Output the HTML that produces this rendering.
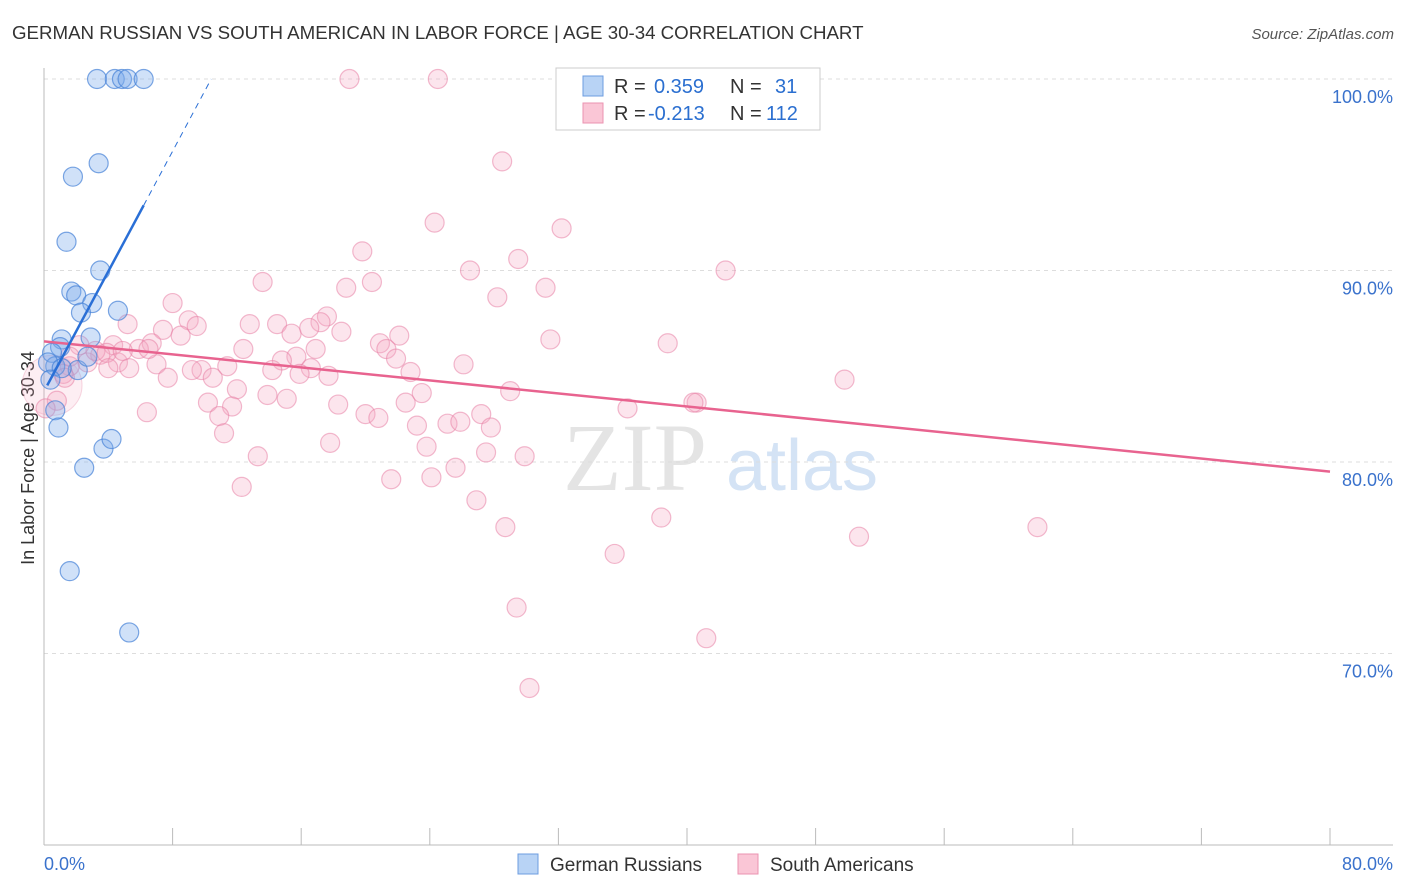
<!DOCTYPE html>
<html><head><meta charset="utf-8"><style>
body{margin:0;background:#fff;font-family:"Liberation Sans",sans-serif}
#c{position:absolute;left:0;top:0}
</style></head><body>
<svg id="c" width="1406" height="892" xmlns="http://www.w3.org/2000/svg">
<text x="12" y="39" font-size="18.7" fill="#333">GERMAN RUSSIAN VS SOUTH AMERICAN IN LABOR FORCE | AGE 30-34 CORRELATION CHART</text>
<text x="1394" y="39" font-size="15" fill="#555" font-style="italic" text-anchor="end">Source: ZipAtlas.com</text>
<text x="34" y="458" font-size="18" fill="#333" text-anchor="middle" transform="rotate(-90 34 458)">In Labor Force | Age 30-34</text>
<g><text x="635" y="490" font-size="96" fill="#e4e4e4" text-anchor="middle" font-family="Liberation Serif,serif">ZIP</text><text x="802" y="490" font-size="72" fill="#d4e3f5" text-anchor="middle">atlas</text></g>
<g id="grid"></g><g id="axes"></g><g id="pts"></g><g id="trend"></g>
<g>
<rect x="556" y="68" width="264" height="62" fill="#fff" stroke="#ccc"/>
<rect x="583" y="76" width="20" height="20" fill="#b8d3f5" stroke="#6d9de0"/>
<rect x="583" y="103" width="20" height="20" fill="#fac6d6" stroke="#eb93b0"/>
<text x="614" y="93" font-size="20" fill="#333">R = <tspan fill="#2b6fd0" x="654">0.359</tspan><tspan x="730">N = </tspan><tspan fill="#2b6fd0" x="775">31</tspan></text>
<text x="614" y="120" font-size="20" fill="#333">R = <tspan fill="#2b6fd0" x="648">-0.213</tspan><tspan x="730">N = </tspan><tspan fill="#2b6fd0" x="766">112</tspan></text>
</g>
<g>
<rect x="518" y="854" width="20" height="20" fill="#b8d3f5" stroke="#6d9de0"/>
<text x="550" y="871" font-size="19" fill="#333">German Russians</text>
<rect x="738" y="854" width="20" height="20" fill="#fac6d6" stroke="#eb93b0"/>
<text x="770" y="871" font-size="19" fill="#333">South Americans</text>
</g>
</svg>
<script>
const xTicks=[8,16,24,32,40,48,56,64,72,80];
const yTicks=[100,90,80,70];
const yTickLabels=["100.0%","90.0%","80.0%","70.0%"];
const blueX=[3.3,4.4,4.85,5.2,6.2,3.4,1.8,1.4,3.5,1.7,2.0,3.0,2.3,4.6,2.9,1.1,1.0,0.5,0.7,2.1,2.7,0.7,0.9,3.7,4.2,2.5,1.6,5.3,0.25,1.1,0.4];
const blueY=[100,100,100,100,100,95.6,94.9,91.5,90.0,88.9,88.7,88.3,87.8,87.9,86.5,86.4,86.0,85.7,85.0,84.8,85.5,82.7,81.8,80.7,81.2,79.7,74.3,71.1,85.2,84.9,84.3];
const pinkX=[19.0,24.5,32.6,28.5,24.3,32.2,19.8,29.5,26.5,42.4,13.6,20.4,18.8,31.2,28.2,8.0,17.6,9.0,12.8,14.5,17.2,9.5,5.2,7.4,8.5,15.4,16.5,18.5,22.1,31.5,38.8,6.7,5.9,4.3,12.4,20.9,16.9,15.7,21.3,21.9,26.1,14.8,4.6,5.3,7.0,9.8,11.4,9.2,14.2,16.6,15.9,22.8,7.7,10.5,17.7,49.8,12.0,13.9,23.5,29.0,10.2,15.1,22.5,11.7,18.3,20.0,20.8,36.3,40.6,40.4,6.4,10.9,23.2,25.1,25.9,27.2,27.8,11.2,17.8,23.8,27.5,13.3,29.9,25.6,21.6,24.1,12.3,26.9,38.4,28.7,50.7,61.8,35.5,29.4,41.2,30.2,3.5,2.7,1.6,1.2,3.2,2.2,1.6,3.9,1.3,0.8,0.1,4.0,4.9,6.5];
const pinkY=[100,100,100,95.7,92.5,92.2,91.0,90.6,90.0,90.0,89.4,89.4,89.1,89.1,88.6,88.3,87.6,87.4,87.2,87.2,87.3,87.1,87.2,86.9,86.6,86.7,87.0,86.8,86.6,86.4,86.2,86.2,85.9,86.1,85.9,86.2,85.9,85.5,85.9,85.4,85.1,85.3,85.2,84.9,85.1,84.8,85.0,84.8,84.8,84.9,84.6,84.7,84.4,84.4,84.5,84.3,83.8,83.5,83.6,83.7,83.1,83.3,83.1,82.9,83.0,82.5,82.3,82.8,83.1,83.1,82.6,82.4,81.9,82.0,82.1,82.5,81.8,81.5,81.0,80.8,80.5,80.3,80.3,79.7,79.1,79.2,78.7,78.0,77.1,76.6,76.1,76.6,75.2,72.4,70.8,68.2,85.6,85.2,85.0,84.6,85.8,86.1,85.5,85.7,84.4,83.2,82.8,84.9,85.8,85.9];
const blueTrend=[0.2,84.0,6.2,93.4,10.4,100];
const pinkTrend=[0,86.3,80,79.5];
const X0=44,X1=1330,Y100=79,PPU=19.15;
const sx=v=>X0+(v-0)/80*(X1-X0);
const sy=v=>Y100+(100-v)*PPU;
const NS="http://www.w3.org/2000/svg";
function mk(t,a,p){const e=document.createElementNS(NS,t);for(const k in a)e.setAttribute(k,a[k]);p.appendChild(e);return e;}
const grid=document.getElementById('grid'),axes=document.getElementById('axes'),pts=document.getElementById('pts'),tr=document.getElementById('trend');
yTicks.forEach((v,i)=>{
 const l=mk('line',{x1:X0,x2:1393,y1:sy(v),y2:sy(v),stroke:'#ddd','stroke-dasharray':'4,4'},grid);
 
 
 const t=mk('text',{x:1393,y:sy(v)+24,'font-size':18,fill:'#3a72cc','text-anchor':'end'},axes);
 t.textContent=yTickLabels[i];
 
 
});
const ya=mk('line',{x1:X0,x2:X0,y1:68,y2:845,stroke:'#bbb'},axes);


const xa=mk('line',{x1:X0,x2:1393,y1:845,y2:845,stroke:'#bbb'},axes);


xTicks.forEach(v=>{
 const t=mk('line',{x1:sx(v),x2:sx(v),y1:828,y2:845,stroke:'#bbb'},axes);
 
 
});
[[0,'0.0%','start',X0],[80,'80.0%','end',1393]].forEach(d=>{
 const t=mk('text',{x:d[3],y:870,'font-size':18,fill:'#3a72cc','text-anchor':d[2]},axes);
 t.textContent=d[1];
 
 
});
const big=mk('circle',{cx:sx(0.5),cy:sy(84.0),r:30,fill:'rgba(245,170,195,0.2)',stroke:'rgba(232,140,170,0.35)'},pts);


pinkX.forEach((x,i)=>{
 const c=mk('circle',{cx:sx(x),cy:sy(pinkY[i]),r:9.5,fill:'rgba(245,170,195,0.3)',stroke:'rgba(232,130,165,0.55)','stroke-width':1.2},pts);
 
 
});
blueX.forEach((x,i)=>{
 const c=mk('circle',{cx:sx(x),cy:sy(blueY[i]),r:9.5,fill:'rgba(120,170,235,0.35)',stroke:'rgba(70,130,215,0.7)','stroke-width':1.2},pts);
 
 
});
const pl=mk('line',{x1:sx(pinkTrend[0]),y1:sy(pinkTrend[1]),x2:sx(pinkTrend[2]),y2:sy(pinkTrend[3]),stroke:'#e8638f','stroke-width':2.5},tr);


const bl=mk('line',{x1:sx(blueTrend[0]),y1:sy(blueTrend[1]),x2:sx(blueTrend[2]),y2:sy(blueTrend[3]),stroke:'#2a6fd6','stroke-width':2.5},tr);


const bd=mk('line',{x1:sx(blueTrend[2]),y1:sy(blueTrend[3]),x2:sx(blueTrend[4]),y2:sy(blueTrend[5]),stroke:'#2a6fd6','stroke-width':1,'stroke-dasharray':'6,5'},tr);


</script>
</body></html>
